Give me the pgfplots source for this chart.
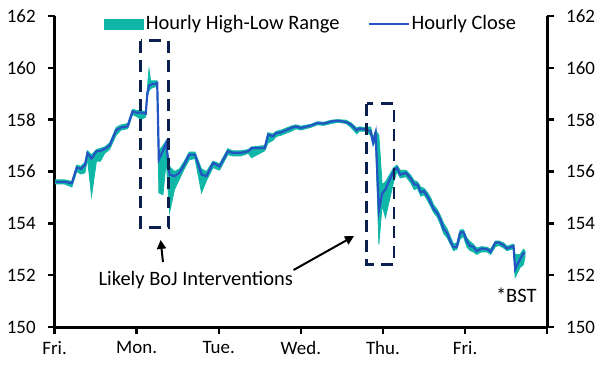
\documentclass[border=0pt]{standalone}
\usepackage{pgfplots}
\pgfplotsset{compat=1.18}
\usepackage{pgfplotstable}
\usepgfplotslibrary{fillbetween}
\usetikzlibrary{arrows.meta}
\usepackage{fontspec}
\setmainfont{Carlito}
\definecolor{bandteal}{RGB}{16,183,166}
\definecolor{closeblue}{RGB}{36,84,196}
\definecolor{boxnavy}{RGB}{12,32,78}
\pgfplotstableread{
x close hi lo
0.01 155.60 155.68 155.52
0.12 155.60 155.68 155.52
0.21 155.55 155.62 155.40
0.27 156.15 156.25 156.00
0.32 156.10 156.20 155.90
0.37 156.25 156.35 155.95
0.40 156.70 156.80 156.50
0.45 156.50 156.65 155.05
0.51 156.78 156.85 156.40
0.56 156.80 156.90 156.40
0.61 156.87 156.95 156.70
0.67 157.00 157.10 156.85
0.75 157.59 157.70 157.40
0.81 157.70 157.80 157.60
0.89 157.74 157.85 157.65
0.95 158.32 158.40 158.20
1.01 158.26 158.35 158.10
1.05 158.28 158.35 158.00
1.11 158.23 158.30 158.10
1.13 159.03 159.20 158.90
1.15 159.30 159.95 159.10
1.17 159.35 159.50 159.20
1.25 159.41 159.50 159.30
1.27 156.46 156.80 155.18
1.32 156.80 157.00 155.10
1.36 157.10 157.20 156.40
1.40 155.88 156.20 154.41
1.46 155.82 156.00 155.30
1.52 155.95 156.10 155.70
1.58 156.27 156.40 156.10
1.64 156.65 156.75 156.45
1.71 156.65 156.75 156.50
1.79 155.88 156.10 155.18
1.85 155.82 156.00 155.65
1.93 156.33 156.40 156.15
2.01 156.20 156.30 156.05
2.11 156.78 156.88 156.65
2.17 156.72 156.80 156.60
2.27 156.72 156.80 156.60
2.36 156.78 156.85 156.70
2.40 156.90 156.95 156.53
2.56 156.91 157.00 156.80
2.60 157.42 157.50 157.10
2.66 157.36 157.45 157.20
2.70 157.49 157.55 157.35
2.76 157.51 157.60 157.40
2.88 157.68 157.75 157.55
2.94 157.74 157.80 157.65
3.00 157.68 157.75 157.60
3.12 157.77 157.82 157.70
3.20 157.87 157.92 157.80
3.28 157.85 157.90 157.78
3.37 157.93 157.98 157.85
3.45 157.96 158.00 157.90
3.55 157.91 157.98 157.85
3.61 157.81 157.88 157.70
3.68 157.59 157.68 157.45
3.71 157.66 157.72 157.55
3.79 157.62 157.70 157.55
3.85 157.55 157.72 157.40
3.88 157.12 157.30 157.00
3.91 157.49 157.60 157.20
3.95 154.50 157.40 153.19
3.99 155.15 155.50 154.70
4.03 155.31 155.60 154.22
4.13 156.03 156.15 155.60
4.17 156.14 156.25 156.00
4.21 155.88 156.05 155.75
4.28 155.95 156.05 155.80
4.34 155.72 155.85 155.55
4.38 155.50 155.65 155.30
4.42 155.50 155.60 155.35
4.46 155.20 155.40 155.05
4.50 155.24 155.35 155.10
4.54 155.05 155.20 154.90
4.58 154.80 155.00 154.65
4.62 154.54 154.70 154.40
4.66 154.41 154.55 154.25
4.70 154.15 154.30 153.95
4.74 153.77 154.00 153.60
4.78 153.64 153.80 153.45
4.82 153.32 153.50 153.20
4.86 153.07 153.20 152.95
4.90 153.10 153.25 153.00
4.94 153.64 153.75 153.40
4.98 153.67 153.75 153.50
5.02 153.32 153.45 153.10
5.06 153.13 153.30 152.95
5.10 153.10 153.20 152.90
5.14 152.93 153.05 152.80
5.20 153.03 153.10 152.90
5.27 153.00 153.08 152.90
5.31 152.90 153.00 152.80
5.37 153.26 153.32 153.10
5.41 153.26 153.32 153.15
5.47 153.15 153.25 153.05
5.51 153.03 153.12 152.95
5.57 153.10 153.18 153.00
5.59 153.12 153.20 153.00
5.61 152.23 152.80 151.91
5.67 152.62 152.80 152.30
5.71 152.85 153.00 152.40
5.73 152.83 152.95 152.70
}\datatable
\pgfplotsset{
  base/.style={
    scale only axis, width=494pt, height=312pt,
    at={(0,0)}, anchor=south west,
    xmin=0, xmax=6, ymin=150, ymax=162,
    ytick={150,152,...,162},
    xtick={0,1,2,3,4,5,6},
    xticklabels={Fri.,Mon.,Tue.,Wed.,Thu.,Fri.,},
    tick align=outside,
    major tick length=7pt,
    every tick/.style={black, line width=2.5pt},
    axis line style={line width=3pt, black},
    /pgf/number format/assume math mode=true,
    /pgf/number format/1000 sep={},
    yticklabel style={font=\fontsize{19}{23}\selectfont},
    xticklabel style={font=\fontsize{19}{23}\selectfont},
  }
}
\begin{document}
\fontsize{20.5}{24}\selectfont
\begin{tikzpicture}
\begin{axis}[base,
  axis x line*=bottom, axis y line*=left,
  yticklabel style={xshift=-5pt},
  clip=false,
  legend columns=2,
  legend style={at={(rel axis cs:0.099,0.974)}, anchor=west, draw=none, fill=none,
    font=\fontsize{20.5}{24}\selectfont, inner sep=0pt,
    /tikz/every even column/.append style={column sep=26pt}},
  legend cell align=left,
]
\addplot[name path=hi, draw=none, forget plot] table[x=x,y=hi]{\datatable};
\addplot[name path=lo, draw=none, forget plot] table[x=x,y=lo]{\datatable};
\addplot[fill=bandteal, draw=bandteal, line width=0.8pt, forget plot] fill between[of=hi and lo];
\addplot[closeblue, line width=2.2pt, forget plot] table[x=x,y=close]{\datatable};
\addlegendimage{legend image code/.code={\fill[bandteal] (0pt,-5pt) rectangle (40pt,5pt);}}
\addlegendentry{Hourly High-Low Range}
\addlegendimage{legend image code/.code={\draw[closeblue, line width=2.2pt] (0pt,0pt) -- (40pt,0pt);}}
\addlegendentry{Hourly Close}
\draw[boxnavy, line width=2.7pt, dash pattern=on 12pt off 7.5pt] (axis cs:1.048,161.04) rectangle (axis cs:1.391,153.85);
\draw[boxnavy, line width=2.7pt, dash pattern=on 12pt off 7.5pt] (axis cs:3.802,158.62) rectangle (axis cs:4.133,152.42);
\draw[black, line width=2pt, -{Triangle[length=9pt,width=9pt]}] (axis cs:1.320,152.51) -- (axis cs:1.291,153.36);
\draw[black, line width=2pt, -{Triangle[length=9pt,width=9pt]}] (axis cs:2.911,152.20) -- (axis cs:3.647,153.51);
\node[font=\fontsize{20.5}{24}\selectfont] at (axis cs:1.719,151.81) {Likely BoJ Interventions};
\node[font=\fontsize{20.5}{24}\selectfont] at (axis cs:5.624,151.23) {*BST};
\end{axis}
\begin{axis}[base,
  axis y line*=right, hide x axis,
  yticklabel pos=right,
  yticklabel style={xshift=5pt},
]
\end{axis}
\path (-53pt,-44pt) rectangle (553pt,328pt);
\end{tikzpicture}
\end{document}
